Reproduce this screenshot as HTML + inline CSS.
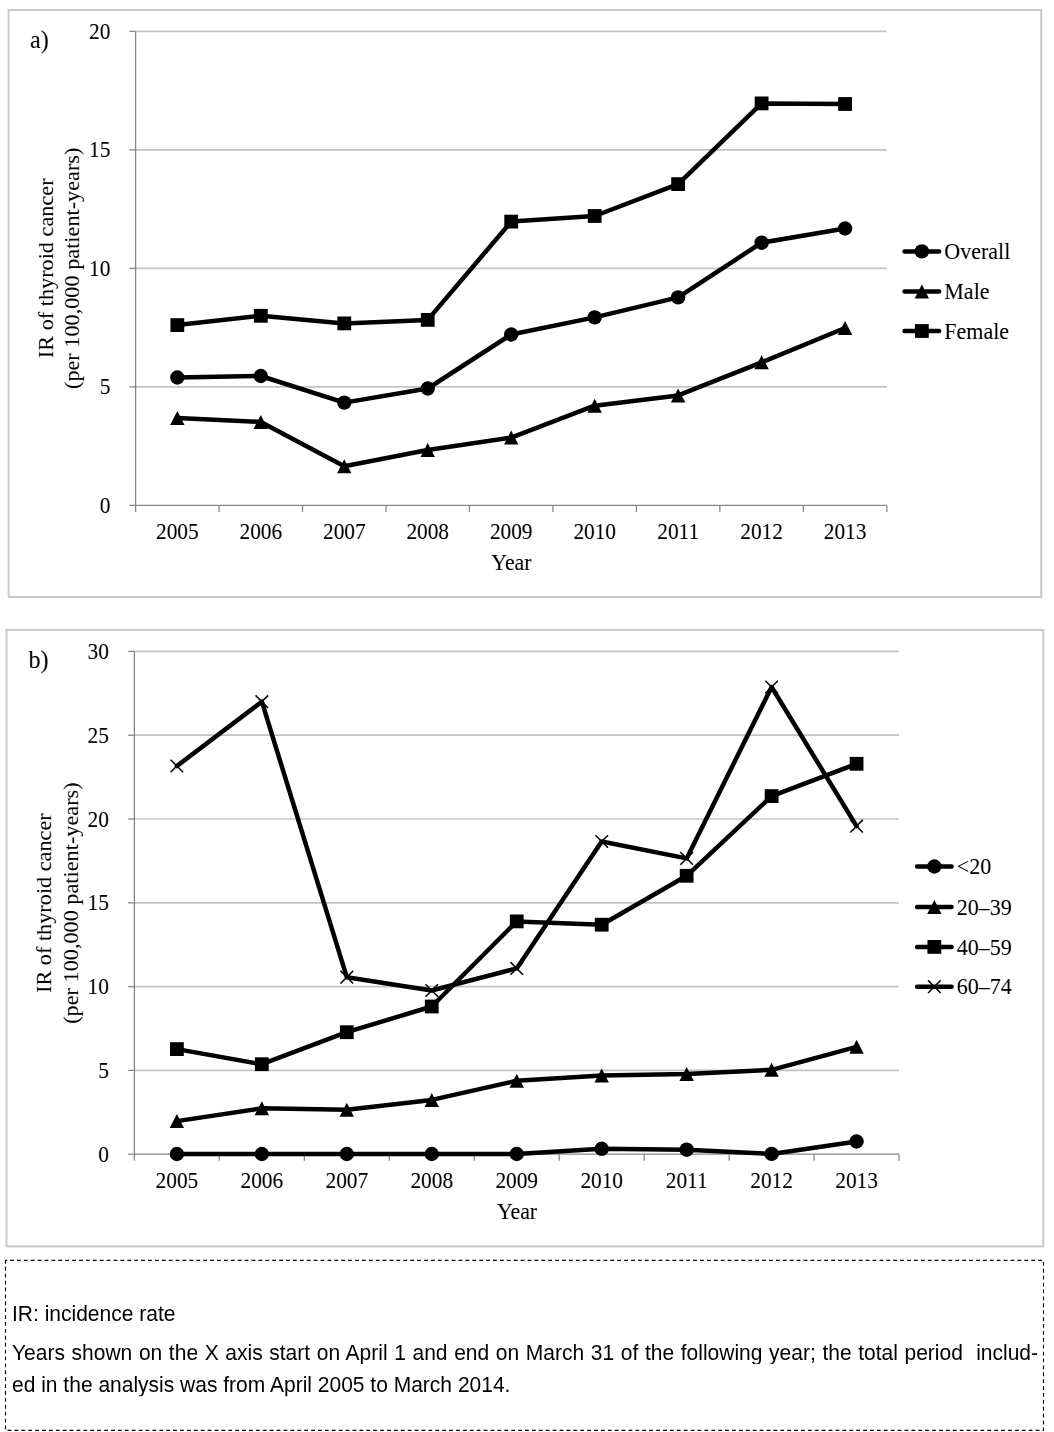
<!DOCTYPE html>
<html><head><meta charset="utf-8"><title>Thyroid cancer incidence</title>
<style>html,body{margin:0;padding:0;background:#fff;width:1054px;height:1432px;overflow:hidden}body{position:relative}svg,div{-webkit-font-smoothing:antialiased}#wrap{position:absolute;left:0;top:0;width:1054px;height:1432px;filter:grayscale(1)}</style>
</head><body>
<div id="wrap">
<svg width="1054" height="1432" viewBox="0 0 1054 1432" style="position:absolute;left:0;top:0">
<rect x="8.6" y="10" width="1032.6" height="587" fill="#fff" stroke="#c9c9c9" stroke-width="2"/>
<line x1="135.6" y1="386.9" x2="886.8" y2="386.9" stroke="#c4c4c4" stroke-width="1.7"/>
<line x1="135.6" y1="268.4" x2="886.8" y2="268.4" stroke="#c4c4c4" stroke-width="1.7"/>
<line x1="135.6" y1="149.9" x2="886.8" y2="149.9" stroke="#c4c4c4" stroke-width="1.7"/>
<line x1="135.6" y1="31.4" x2="886.8" y2="31.4" stroke="#c4c4c4" stroke-width="1.7"/>
<line x1="135.6" y1="31.4" x2="135.6" y2="505.4" stroke="#878787" stroke-width="1.3"/>
<line x1="135.6" y1="505.4" x2="886.8" y2="505.4" stroke="#878787" stroke-width="1.3"/>
<line x1="129.4" y1="505.4" x2="135.6" y2="505.4" stroke="#878787" stroke-width="1.3"/>
<line x1="129.4" y1="386.9" x2="135.6" y2="386.9" stroke="#878787" stroke-width="1.3"/>
<line x1="129.4" y1="268.4" x2="135.6" y2="268.4" stroke="#878787" stroke-width="1.3"/>
<line x1="129.4" y1="149.9" x2="135.6" y2="149.9" stroke="#878787" stroke-width="1.3"/>
<line x1="129.4" y1="31.4" x2="135.6" y2="31.4" stroke="#878787" stroke-width="1.3"/>
<line x1="135.6" y1="505.4" x2="135.6" y2="511.9" stroke="#878787" stroke-width="1.3"/>
<line x1="219.07" y1="505.4" x2="219.07" y2="511.9" stroke="#878787" stroke-width="1.3"/>
<line x1="302.53" y1="505.4" x2="302.53" y2="511.9" stroke="#878787" stroke-width="1.3"/>
<line x1="386" y1="505.4" x2="386" y2="511.9" stroke="#878787" stroke-width="1.3"/>
<line x1="469.47" y1="505.4" x2="469.47" y2="511.9" stroke="#878787" stroke-width="1.3"/>
<line x1="552.93" y1="505.4" x2="552.93" y2="511.9" stroke="#878787" stroke-width="1.3"/>
<line x1="636.4" y1="505.4" x2="636.4" y2="511.9" stroke="#878787" stroke-width="1.3"/>
<line x1="719.87" y1="505.4" x2="719.87" y2="511.9" stroke="#878787" stroke-width="1.3"/>
<line x1="803.33" y1="505.4" x2="803.33" y2="511.9" stroke="#878787" stroke-width="1.3"/>
<line x1="886.8" y1="505.4" x2="886.8" y2="511.9" stroke="#878787" stroke-width="1.3"/>
<g font-family="'Liberation Serif', serif" font-size="21.3" fill="#000">
<text transform="translate(110.4 512.7) scale(1 1.045)" text-anchor="end">0</text>
<text transform="translate(110.4 394.2) scale(1 1.045)" text-anchor="end">5</text>
<text transform="translate(110.4 275.7) scale(1 1.045)" text-anchor="end">10</text>
<text transform="translate(110.4 157.2) scale(1 1.045)" text-anchor="end">15</text>
<text transform="translate(110.4 38.7) scale(1 1.045)" text-anchor="end">20</text>
<text transform="translate(177.33 539.2) scale(1 1.045)" text-anchor="middle">2005</text>
<text transform="translate(260.8 539.2) scale(1 1.045)" text-anchor="middle">2006</text>
<text transform="translate(344.27 539.2) scale(1 1.045)" text-anchor="middle">2007</text>
<text transform="translate(427.73 539.2) scale(1 1.045)" text-anchor="middle">2008</text>
<text transform="translate(511.2 539.2) scale(1 1.045)" text-anchor="middle">2009</text>
<text transform="translate(594.67 539.2) scale(1 1.045)" text-anchor="middle">2010</text>
<text transform="translate(678.13 539.2) scale(1 1.045)" text-anchor="middle">2011</text>
<text transform="translate(761.6 539.2) scale(1 1.045)" text-anchor="middle">2012</text>
<text transform="translate(845.07 539.2) scale(1 1.045)" text-anchor="middle">2013</text>
<text transform="translate(511.4 569.9) scale(1 1.045)" text-anchor="middle" font-size="21.8">Year</text>
<text transform="translate(30 47.8) scale(1 1.06)" font-size="24">a)</text>
<text transform="translate(52.8 268.3) rotate(-90) scale(1.045 1)" text-anchor="middle">IR of thyroid cancer</text>
<text transform="translate(79.4 268.3) rotate(-90) scale(1.045 1)" text-anchor="middle">(per 100,000 patient-years)</text>
</g>
<path d="M177.33 325.1L260.8 315.8L344.27 323.4L427.73 319.9L511.2 221.6L594.67 216L678.13 184.1L761.6 103.4L845.07 104" fill="none" stroke="#000" stroke-width="4.5" stroke-linejoin="round" stroke-linecap="round"/>
<g fill="#000"><rect x="170.43" y="318.2" width="13.8" height="13.8"/><rect x="253.9" y="308.9" width="13.8" height="13.8"/><rect x="337.37" y="316.5" width="13.8" height="13.8"/><rect x="420.83" y="313" width="13.8" height="13.8"/><rect x="504.3" y="214.7" width="13.8" height="13.8"/><rect x="587.77" y="209.1" width="13.8" height="13.8"/><rect x="671.23" y="177.2" width="13.8" height="13.8"/><rect x="754.7" y="96.5" width="13.8" height="13.8"/><rect x="838.17" y="97.1" width="13.8" height="13.8"/></g>
<path d="M177.33 377.5L260.8 376L344.27 402.6L427.73 388.5L511.2 334.5L594.67 317.4L678.13 297.4L761.6 242.7L845.07 228.5" fill="none" stroke="#000" stroke-width="4.5" stroke-linejoin="round" stroke-linecap="round"/>
<g fill="#000"><circle cx="177.33" cy="377.5" r="7.2"/><circle cx="260.8" cy="376" r="7.2"/><circle cx="344.27" cy="402.6" r="7.2"/><circle cx="427.73" cy="388.5" r="7.2"/><circle cx="511.2" cy="334.5" r="7.2"/><circle cx="594.67" cy="317.4" r="7.2"/><circle cx="678.13" cy="297.4" r="7.2"/><circle cx="761.6" cy="242.7" r="7.2"/><circle cx="845.07" cy="228.5" r="7.2"/></g>
<path d="M177.33 417.9L260.8 421.9L344.27 466.3L427.73 450L511.2 437.6L594.67 405.7L678.13 395.4L761.6 362.3L845.07 328" fill="none" stroke="#000" stroke-width="4.5" stroke-linejoin="round" stroke-linecap="round"/>
<g fill="#000"><path d="M177.33 410.9L184.53 424.9L170.13 424.9Z"/><path d="M260.8 414.9L268 428.9L253.6 428.9Z"/><path d="M344.27 459.3L351.47 473.3L337.07 473.3Z"/><path d="M427.73 443L434.93 457L420.53 457Z"/><path d="M511.2 430.6L518.4 444.6L504 444.6Z"/><path d="M594.67 398.7L601.87 412.7L587.47 412.7Z"/><path d="M678.13 388.4L685.33 402.4L670.93 402.4Z"/><path d="M761.6 355.3L768.8 369.3L754.4 369.3Z"/><path d="M845.07 321L852.27 335L837.87 335Z"/></g>
<g font-family="'Liberation Serif', serif" font-size="21.3" fill="#000">
<line x1="904.55" y1="251.4" x2="939.15" y2="251.4" stroke="#000" stroke-width="4.5" stroke-linecap="round"/>
<g fill="#000"><circle cx="921.85" cy="251.4" r="7.2"/></g>
<text transform="translate(944.3 259) scale(1 1.045)" font-size="22">Overall</text>
<line x1="904.55" y1="291.5" x2="939.15" y2="291.5" stroke="#000" stroke-width="4.5" stroke-linecap="round"/>
<g fill="#000"><path d="M921.85 284.5L929.05 298.5L914.65 298.5Z"/></g>
<text transform="translate(944.3 299.1) scale(1 1.045)" font-size="22">Male</text>
<line x1="904.55" y1="331.0" x2="939.15" y2="331.0" stroke="#000" stroke-width="4.5" stroke-linecap="round"/>
<g fill="#000"><rect x="914.95" y="324.1" width="13.8" height="13.8"/></g>
<text transform="translate(944.3 338.6) scale(1 1.045)" font-size="22">Female</text>
</g>
<rect x="6.5" y="629.9" width="1036.8" height="616.5" fill="#fff" stroke="#c9c9c9" stroke-width="2"/>
<line x1="134.4" y1="1070.4" x2="899.05" y2="1070.4" stroke="#c4c4c4" stroke-width="1.7"/>
<line x1="134.4" y1="986.6" x2="899.05" y2="986.6" stroke="#c4c4c4" stroke-width="1.7"/>
<line x1="134.4" y1="902.8" x2="899.05" y2="902.8" stroke="#c4c4c4" stroke-width="1.7"/>
<line x1="134.4" y1="819" x2="899.05" y2="819" stroke="#c4c4c4" stroke-width="1.7"/>
<line x1="134.4" y1="735.2" x2="899.05" y2="735.2" stroke="#c4c4c4" stroke-width="1.7"/>
<line x1="134.4" y1="651.4" x2="899.05" y2="651.4" stroke="#c4c4c4" stroke-width="1.7"/>
<line x1="134.4" y1="651.4" x2="134.4" y2="1154.2" stroke="#878787" stroke-width="1.3"/>
<line x1="134.4" y1="1154.2" x2="899.05" y2="1154.2" stroke="#878787" stroke-width="1.3"/>
<line x1="128.2" y1="1154.2" x2="134.4" y2="1154.2" stroke="#878787" stroke-width="1.3"/>
<line x1="128.2" y1="1070.4" x2="134.4" y2="1070.4" stroke="#878787" stroke-width="1.3"/>
<line x1="128.2" y1="986.6" x2="134.4" y2="986.6" stroke="#878787" stroke-width="1.3"/>
<line x1="128.2" y1="902.8" x2="134.4" y2="902.8" stroke="#878787" stroke-width="1.3"/>
<line x1="128.2" y1="819" x2="134.4" y2="819" stroke="#878787" stroke-width="1.3"/>
<line x1="128.2" y1="735.2" x2="134.4" y2="735.2" stroke="#878787" stroke-width="1.3"/>
<line x1="128.2" y1="651.4" x2="134.4" y2="651.4" stroke="#878787" stroke-width="1.3"/>
<line x1="134.4" y1="1154.2" x2="134.4" y2="1160.7" stroke="#878787" stroke-width="1.3"/>
<line x1="219.36" y1="1154.2" x2="219.36" y2="1160.7" stroke="#878787" stroke-width="1.3"/>
<line x1="304.32" y1="1154.2" x2="304.32" y2="1160.7" stroke="#878787" stroke-width="1.3"/>
<line x1="389.28" y1="1154.2" x2="389.28" y2="1160.7" stroke="#878787" stroke-width="1.3"/>
<line x1="474.24" y1="1154.2" x2="474.24" y2="1160.7" stroke="#878787" stroke-width="1.3"/>
<line x1="559.21" y1="1154.2" x2="559.21" y2="1160.7" stroke="#878787" stroke-width="1.3"/>
<line x1="644.17" y1="1154.2" x2="644.17" y2="1160.7" stroke="#878787" stroke-width="1.3"/>
<line x1="729.13" y1="1154.2" x2="729.13" y2="1160.7" stroke="#878787" stroke-width="1.3"/>
<line x1="814.09" y1="1154.2" x2="814.09" y2="1160.7" stroke="#878787" stroke-width="1.3"/>
<line x1="899.05" y1="1154.2" x2="899.05" y2="1160.7" stroke="#878787" stroke-width="1.3"/>
<g font-family="'Liberation Serif', serif" font-size="21.3" fill="#000">
<text transform="translate(108.8 1161.7) scale(1 1.045)" text-anchor="end">0</text>
<text transform="translate(108.8 1077.9) scale(1 1.045)" text-anchor="end">5</text>
<text transform="translate(108.8 994.1) scale(1 1.045)" text-anchor="end">10</text>
<text transform="translate(108.8 910.3) scale(1 1.045)" text-anchor="end">15</text>
<text transform="translate(108.8 826.5) scale(1 1.045)" text-anchor="end">20</text>
<text transform="translate(108.8 742.7) scale(1 1.045)" text-anchor="end">25</text>
<text transform="translate(108.8 658.9) scale(1 1.045)" text-anchor="end">30</text>
<text transform="translate(176.88 1188.2) scale(1 1.045)" text-anchor="middle">2005</text>
<text transform="translate(261.84 1188.2) scale(1 1.045)" text-anchor="middle">2006</text>
<text transform="translate(346.8 1188.2) scale(1 1.045)" text-anchor="middle">2007</text>
<text transform="translate(431.76 1188.2) scale(1 1.045)" text-anchor="middle">2008</text>
<text transform="translate(516.73 1188.2) scale(1 1.045)" text-anchor="middle">2009</text>
<text transform="translate(601.69 1188.2) scale(1 1.045)" text-anchor="middle">2010</text>
<text transform="translate(686.65 1188.2) scale(1 1.045)" text-anchor="middle">2011</text>
<text transform="translate(771.61 1188.2) scale(1 1.045)" text-anchor="middle">2012</text>
<text transform="translate(856.57 1188.2) scale(1 1.045)" text-anchor="middle">2013</text>
<text transform="translate(517 1218.8) scale(1 1.045)" text-anchor="middle" font-size="21.8">Year</text>
<text transform="translate(28.5 668) scale(1 1.06)" font-size="24">b)</text>
<text transform="translate(50.9 903.1) rotate(-90) scale(1.045 1)" text-anchor="middle">IR of thyroid cancer</text>
<text transform="translate(77.5 903.1) rotate(-90) scale(1.045 1)" text-anchor="middle">(per 100,000 patient-years)</text>
</g>
<path d="M176.88 766L261.84 701.7L346.8 977.2L431.76 990.5L516.73 968.4L601.69 841.5L686.65 858.4L771.61 687L856.57 826.2" fill="none" stroke="#000" stroke-width="4.5" stroke-linejoin="round" stroke-linecap="round"/>
<g fill="#000"><path d="M170.58 759.7L183.18 772.3M183.18 759.7L170.58 772.3" stroke="#000" stroke-width="1.5" fill="none"/><path d="M255.54 695.4L268.14 708M268.14 695.4L255.54 708" stroke="#000" stroke-width="1.5" fill="none"/><path d="M340.5 970.9L353.1 983.5M353.1 970.9L340.5 983.5" stroke="#000" stroke-width="1.5" fill="none"/><path d="M425.46 984.2L438.06 996.8M438.06 984.2L425.46 996.8" stroke="#000" stroke-width="1.5" fill="none"/><path d="M510.43 962.1L523.02 974.7M523.02 962.1L510.43 974.7" stroke="#000" stroke-width="1.5" fill="none"/><path d="M595.39 835.2L607.99 847.8M607.99 835.2L595.39 847.8" stroke="#000" stroke-width="1.5" fill="none"/><path d="M680.35 852.1L692.95 864.7M692.95 852.1L680.35 864.7" stroke="#000" stroke-width="1.5" fill="none"/><path d="M765.31 680.7L777.91 693.3M777.91 680.7L765.31 693.3" stroke="#000" stroke-width="1.5" fill="none"/><path d="M850.27 819.9L862.87 832.5M862.87 819.9L850.27 832.5" stroke="#000" stroke-width="1.5" fill="none"/></g>
<path d="M176.88 1049.1L261.84 1064.2L346.8 1032.2L431.76 1006.5L516.73 921.4L601.69 924.7L686.65 875.8L771.61 796.1L856.57 763.8" fill="none" stroke="#000" stroke-width="4.5" stroke-linejoin="round" stroke-linecap="round"/>
<g fill="#000"><rect x="169.98" y="1042.2" width="13.8" height="13.8"/><rect x="254.94" y="1057.3" width="13.8" height="13.8"/><rect x="339.9" y="1025.3" width="13.8" height="13.8"/><rect x="424.86" y="999.6" width="13.8" height="13.8"/><rect x="509.83" y="914.5" width="13.8" height="13.8"/><rect x="594.79" y="917.8" width="13.8" height="13.8"/><rect x="679.75" y="868.9" width="13.8" height="13.8"/><rect x="764.71" y="789.2" width="13.8" height="13.8"/><rect x="849.67" y="756.9" width="13.8" height="13.8"/></g>
<path d="M176.88 1121.1L261.84 1108.3L346.8 1109.8L431.76 1099.9L516.73 1080.8L601.69 1075.6L686.65 1073.9L771.61 1069.8L856.57 1046.8" fill="none" stroke="#000" stroke-width="4.5" stroke-linejoin="round" stroke-linecap="round"/>
<g fill="#000"><path d="M176.88 1114.1L184.08 1128.1L169.68 1128.1Z"/><path d="M261.84 1101.3L269.04 1115.3L254.64 1115.3Z"/><path d="M346.8 1102.8L354 1116.8L339.6 1116.8Z"/><path d="M431.76 1092.9L438.96 1106.9L424.56 1106.9Z"/><path d="M516.73 1073.8L523.93 1087.8L509.53 1087.8Z"/><path d="M601.69 1068.6L608.89 1082.6L594.49 1082.6Z"/><path d="M686.65 1066.9L693.85 1080.9L679.45 1080.9Z"/><path d="M771.61 1062.8L778.81 1076.8L764.41 1076.8Z"/><path d="M856.57 1039.8L863.77 1053.8L849.37 1053.8Z"/></g>
<path d="M176.88 1154L261.84 1154L346.8 1154L431.76 1154L516.73 1154L601.69 1148.8L686.65 1149.7L771.61 1153.9L856.57 1141.5" fill="none" stroke="#000" stroke-width="4.5" stroke-linejoin="round" stroke-linecap="round"/>
<g fill="#000"><circle cx="176.88" cy="1154" r="7.2"/><circle cx="261.84" cy="1154" r="7.2"/><circle cx="346.8" cy="1154" r="7.2"/><circle cx="431.76" cy="1154" r="7.2"/><circle cx="516.73" cy="1154" r="7.2"/><circle cx="601.69" cy="1148.8" r="7.2"/><circle cx="686.65" cy="1149.7" r="7.2"/><circle cx="771.61" cy="1153.9" r="7.2"/><circle cx="856.57" cy="1141.5" r="7.2"/></g>
<g font-family="'Liberation Serif', serif" font-size="21.3" fill="#000">
<line x1="917.15" y1="866.5" x2="951.55" y2="866.5" stroke="#000" stroke-width="4.5" stroke-linecap="round"/>
<g fill="#000"><circle cx="934.35" cy="866.5" r="7.2"/></g>
<text transform="translate(956.8 874.1) scale(1 1.045)" font-size="22">&lt;20</text>
<line x1="917.15" y1="906.9" x2="951.55" y2="906.9" stroke="#000" stroke-width="4.5" stroke-linecap="round"/>
<g fill="#000"><path d="M934.35 899.9L941.55 913.9L927.15 913.9Z"/></g>
<text transform="translate(956.8 914.5) scale(1 1.045)" font-size="22">20–39</text>
<line x1="917.15" y1="946.9" x2="951.55" y2="946.9" stroke="#000" stroke-width="4.5" stroke-linecap="round"/>
<g fill="#000"><rect x="927.45" y="940" width="13.8" height="13.8"/></g>
<text transform="translate(956.8 954.5) scale(1 1.045)" font-size="22">40–59</text>
<line x1="917.15" y1="986.7" x2="951.55" y2="986.7" stroke="#000" stroke-width="4.5" stroke-linecap="round"/>
<g fill="#000"><path d="M928.05 980.4L940.65 993M940.65 980.4L928.05 993" stroke="#000" stroke-width="1.5" fill="none"/></g>
<text transform="translate(956.8 994.3) scale(1 1.045)" font-size="22">60–74</text>
</g>
<rect x="5.5" y="1260.4" width="1038" height="170" fill="none" stroke="#000" stroke-width="1.1" stroke-dasharray="3.8 3.1" stroke-dashoffset="2.34"/>
</svg>
<div style="position:absolute;left:0;top:0;font-family:'Liberation Sans', sans-serif;font-size:21px;line-height:21px;color:#000">
<div style="position:absolute;left:12px;top:1303.3px;white-space:nowrap;transform:scaleY(1.04);transform-origin:0 17.8px">IR: incidence rate</div>
<div style="position:absolute;left:12px;top:1341.9px;width:1026px;text-align:justify;text-align-last:justify;white-space:normal;transform:scaleY(1.04);transform-origin:0 17.8px">Years shown on the X axis start on April 1 and end on March 31 of the following year; the total period&nbsp; includ-</div>
<div style="position:absolute;left:12px;top:1373.8px;white-space:nowrap;transform:scaleY(1.04);transform-origin:0 17.8px">ed in the analysis was from April 2005 to March 2014.</div>
</div>
</div>
</body></html>
